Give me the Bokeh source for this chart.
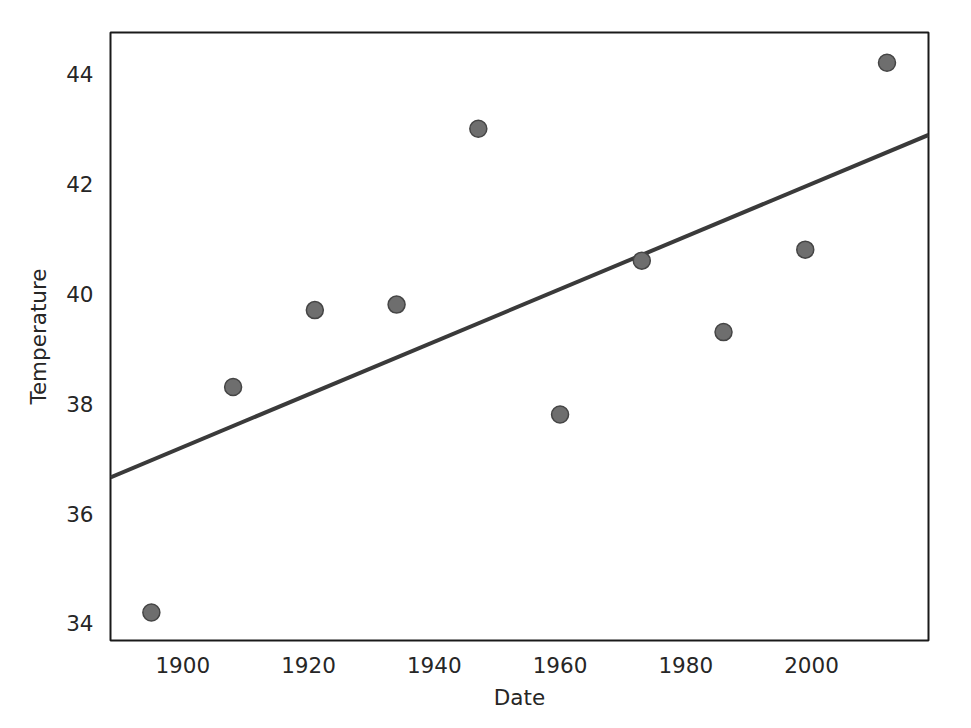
import numpy as np
from bokeh.plotting import figure
from bokeh.models import Range1d, FixedTicker, ColumnDataSource
from bokeh.embed import file_html
from bokeh.resources import INLINE

# Data
years = [1895, 1908, 1921, 1934, 1947, 1960, 1973, 1986, 1999, 2012]
temperature = [34.2, 38.3, 39.7, 39.8, 43.0, 37.8, 40.6, 39.3, 40.8, 44.2]
x_ticks = [1900, 1920, 1940, 1960, 1980, 2000]
y_ticks = [34, 36, 38, 40, 42, 44]

x_start, x_end = 1888.5, 2018.6
y_start, y_end = 33.69, 44.75

# Least-squares fit line
slope, intercept = np.polyfit(years, temperature, 1)
fit_x = [x_start, x_end]
fit_y = [slope * v + intercept for v in fit_x]

p = figure(width=955, height=712, output_backend="svg", toolbar_location=None,
           x_range=Range1d(x_start, x_end), y_range=Range1d(y_start, y_end),
           min_border_left=110, min_border_right=27, min_border_top=32, min_border_bottom=72,
           background_fill_color="white", border_fill_color="white")

p.xgrid.visible = False
p.ygrid.visible = False
p.outline_line_color = "#1a1a1a"
p.outline_line_width = 2

font = "DejaVu Sans"
for ax in (p.xaxis[0], p.yaxis[0]):
    ax.axis_line_color = None
    ax.major_tick_line_color = None
    ax.minor_tick_line_color = None
    ax.major_tick_out = 0
    ax.major_tick_in = 0
    ax.major_label_text_font = font
    ax.major_label_text_font_size = "21.5px"
    ax.major_label_text_color = "#262626"
    ax.axis_label_text_font = font
    ax.axis_label_text_font_size = "21.5px"
    ax.axis_label_text_font_style = "normal"
    ax.axis_label_text_color = "#262626"

p.xaxis.ticker = FixedTicker(ticks=x_ticks)
p.yaxis.ticker = FixedTicker(ticks=y_ticks)
p.xaxis.axis_label = "Date"
p.yaxis.axis_label = "Temperature"
p.xaxis.major_label_standoff = 16
p.yaxis.major_label_standoff = 17
p.xaxis.axis_label_standoff = 9
p.yaxis.axis_label_standoff = 12

p.line(fit_x, fit_y, line_color="#3a3a3a", line_width=4)

src = ColumnDataSource(dict(x=years, y=temperature))
p.scatter("x", "y", source=src, size=17, fill_color="#6e6e6e",
          line_color="#454545", line_width=1.5)

open("out.html", "w").write(file_html(p, INLINE))
